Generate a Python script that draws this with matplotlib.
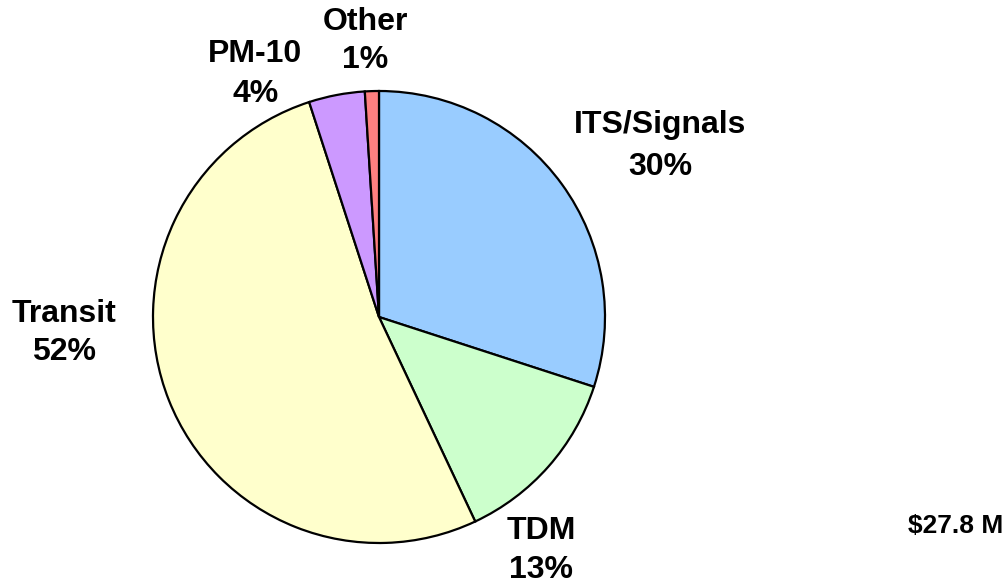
import matplotlib
matplotlib.use("Agg")
import matplotlib.pyplot as plt

categories = ["ITS/Signals", "TDM", "Transit", "PM-10", "Other"]
values = [30, 13, 52, 4, 1]
colors = ["#99CCFF", "#CCFFCC", "#FFFFCC", "#CC99FF", "#FF8080"]
total_label = "$27.8 M"

W, H = 1008, 583
fig = plt.figure(figsize=(W / 100, H / 100), dpi=100)
ax = fig.add_axes([0, 0, 1, 1])

cx, cy, r = 379, 317, 226
ax.pie(values, colors=colors, startangle=90, counterclock=False,
       center=(cx, H - cy), radius=r,
       wedgeprops=dict(edgecolor="black", linewidth=1.6))
ax.set_xlim(0, W)
ax.set_ylim(0, H)
ax.set_aspect("equal")
ax.axis("off")

# label positions (x center, baseline line1, baseline line2) in image pixels
label_pos = {
    "ITS/Signals": (660, 133, 175),
    "TDM": (541, 539, 578),
    "Transit": (64.5, 321.5, 360),
    "PM-10": (255.5, 62.5, 101.5),
    "Other": (365.5, 30, 68.5),
}
font = dict(family="Liberation Sans", weight="bold", fontsize=23)
for cat, v in zip(categories, values):
    x, b1, b2 = label_pos[cat]
    ax.text(x, H - b1, cat, ha="center", va="baseline", **font)
    ax.text(x, H - b2, f"{v}%", ha="center", va="baseline", **font)

ax.text(1003, H - 533, total_label, ha="right", va="baseline",
        family="Liberation Sans", weight="bold", fontsize=19)

fig.savefig("out.png", dpi=100)
